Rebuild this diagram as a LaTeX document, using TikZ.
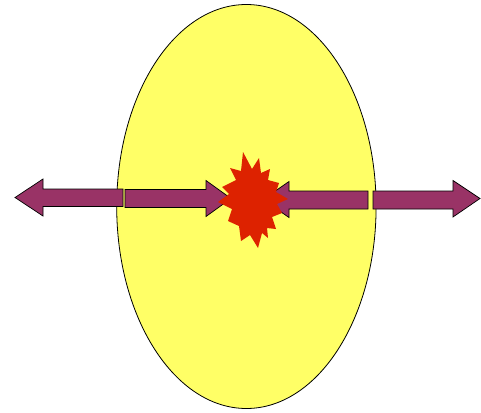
\documentclass[tikz,border=0pt]{standalone}
\usepackage{tikz}
\definecolor{eggyellow}{RGB}{255,255,102}
\definecolor{plum}{RGB}{153,51,102}
\definecolor{blast}{RGB}{221,34,0}
\tikzset{
  eggshape/.style={fill=eggyellow,draw=black,line width=0.8pt},
  arrowshape/.style={fill=plum,draw=black,line width=0.7pt,line join=miter},
  blastshape/.style={fill=blast,draw=none}
}
\begin{document}
\begin{tikzpicture}[x=1pt,y=-1pt]
\useasboundingbox (0,0) rectangle (481,412);
% egg
\draw[eggshape] (246.4,206.5) ellipse [x radius=129.7, y radius=202];
% left arrow (pointing left)
\draw[arrowshape] (15,197.5) -- (43,179) -- (43,189) -- (123,189) -- (123,206.5) -- (43,206.5) -- (43,216) -- cycle;
% middle-left arrow (pointing right)
\draw[arrowshape] (125,189.5) -- (206,189.5) -- (206,180.5) -- (231,198.5) -- (206,216.5) -- (206,207.5) -- (125,207.5) -- cycle;
% middle-right arrow (pointing left)
\draw[arrowshape] (368,191) -- (289,191) -- (289,181.5) -- (263,199.5) -- (289,217.5) -- (289,209) -- (368,209) -- cycle;
% right arrow (pointing right)
\draw[arrowshape] (373,191) -- (453,191) -- (453,180.5) -- (480,198.5) -- (453,217) -- (453,209) -- (373,209) -- cycle;
% explosion
\fill[blastshape] (243,152) -- (252,169) -- (259,158) -- (261,173) -- (270,169) -- (268,180)
  -- (279,183) -- (276,192) -- (288,199) -- (277,204) -- (282,213) -- (272,217)
  -- (276,229) -- (267,228) -- (268,238) -- (262,233) -- (258,248) -- (250,235)
  -- (241,241) -- (239,226) -- (228,221) -- (232,209) -- (218,202) -- (229,194)
  -- (222,187) -- (236,180) -- (230,168) -- (241,171) -- cycle;
\end{tikzpicture}
\end{document}
